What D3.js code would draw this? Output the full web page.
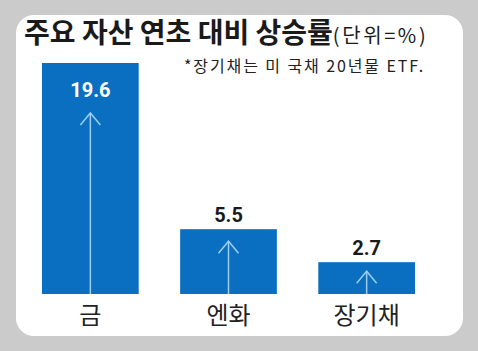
<!DOCTYPE html>
<html>
<head>
<meta charset="utf-8">
<script src="https://cdn.jsdelivr.net/npm/d3@7"></script>
<style>
    body { margin: 0; background: #cbcbcb; }
    text { font-family: "Noto Sans CJK KR", "Noto Sans", sans-serif; }
    .num { font-family: "Roboto", "Liberation Sans", sans-serif; font-weight: bold; }
</style>
</head>
<body>
<div id="chart"></div>
<script>
// data
const categories = ["금", "엔화", "장기채"];
const values = [19.6, 5.5, 2.7];
const title = "주요 자산 연초 대비 상승률";
const unit = "(단위=%)";
const note = "*장기채는 미 국채 20년물 ETF.";

const W = 478, H = 351;
const barColor = "#0b6fc1";
const arrowColor = "#9ccdf3";

const svg = d3.select("#chart")
    .append("svg")
        .attr("width", W)
        .attr("height", H);

// gray background + white card
svg.append("rect")
    .attr("width", W).attr("height", H)
    .attr("fill", "#cbcbcb");

svg.append("rect")
    .attr("x", 16).attr("y", 15)
    .attr("width", 447).attr("height", 321)
    .attr("rx", 18)
    .attr("fill", "#ffffff");

// title
const t = svg.append("text")
    .attr("x", 24)
    .attr("y", 43);
t.append("tspan")
    .attr("font-size", 28)
    .attr("font-weight", "bold")
    .attr("fill", "#1a1a1a")
    .text(title);
t.append("tspan")
    .attr("font-size", 20)
    .attr("letter-spacing", 2.6)
    .attr("fill", "#1a1a1a")
    .text(unit);

svg.append("text")
    .attr("x", 184)
    .attr("y", 72)
    .attr("font-size", 16)
    .attr("letter-spacing", 1.9)
    .attr("fill", "#222")
    .text(note);

// scales
const x = d3.scaleBand()
    .domain(categories)
    .range([42, 415])
    .paddingInner(0.3)
    .paddingOuter(0);

const y = d3.scaleLinear()
    .domain([0, d3.max(values)])
    .range([294, 63]);

const data = categories.map((c, i) => ({ cat: c, v: values[i] }));
const inside = d => (y(0) - y(d.v)) > 100; // label goes inside tall bars

const g = svg.selectAll("g.bar")
    .data(data)
    .enter()
    .append("g")
        .attr("class", "bar");

g.append("rect")
    .attr("x", d => x(d.cat))
    .attr("y", d => y(d.v))
    .attr("width", x.bandwidth())
    .attr("height", d => y(0) - y(d.v))
    .attr("fill", barColor);

// arrows
const apex = d => y(d.v) + (inside(d) ? 50 : (y(0) - y(d.v) > 40 ? 12 : 9));
const cx = d => x(d.cat) + x.bandwidth() / 2;

g.append("line")
    .attr("x1", cx).attr("x2", cx)
    .attr("y1", apex)
    .attr("y2", y(0))
    .attr("stroke", arrowColor)
    .attr("stroke-width", 1.5);

g.append("path")
    .attr("d", d => `M${cx(d) - 10},${apex(d) + 12} L${cx(d)},${apex(d)} L${cx(d) + 10},${apex(d) + 12}`)
    .attr("fill", "none")
    .attr("stroke", arrowColor)
    .attr("stroke-width", 1.5);

// value labels
g.append("text")
    .attr("class", "num")
    .attr("x", cx)
    .attr("y", d => inside(d) ? y(d.v) + 34 : y(d.v) - 7)
    .attr("text-anchor", "middle")
    .attr("font-size", 20)
    .attr("fill", d => inside(d) ? "#ffffff" : "#1a1a1a")
    .text(d => d.v.toFixed(1));

// category labels
g.append("text")
    .attr("x", cx)
    .attr("y", 324)
    .attr("text-anchor", "middle")
    .attr("font-size", 24)
    .attr("fill", "#222")
    .text(d => d.cat);
</script>
</body>
</html>
